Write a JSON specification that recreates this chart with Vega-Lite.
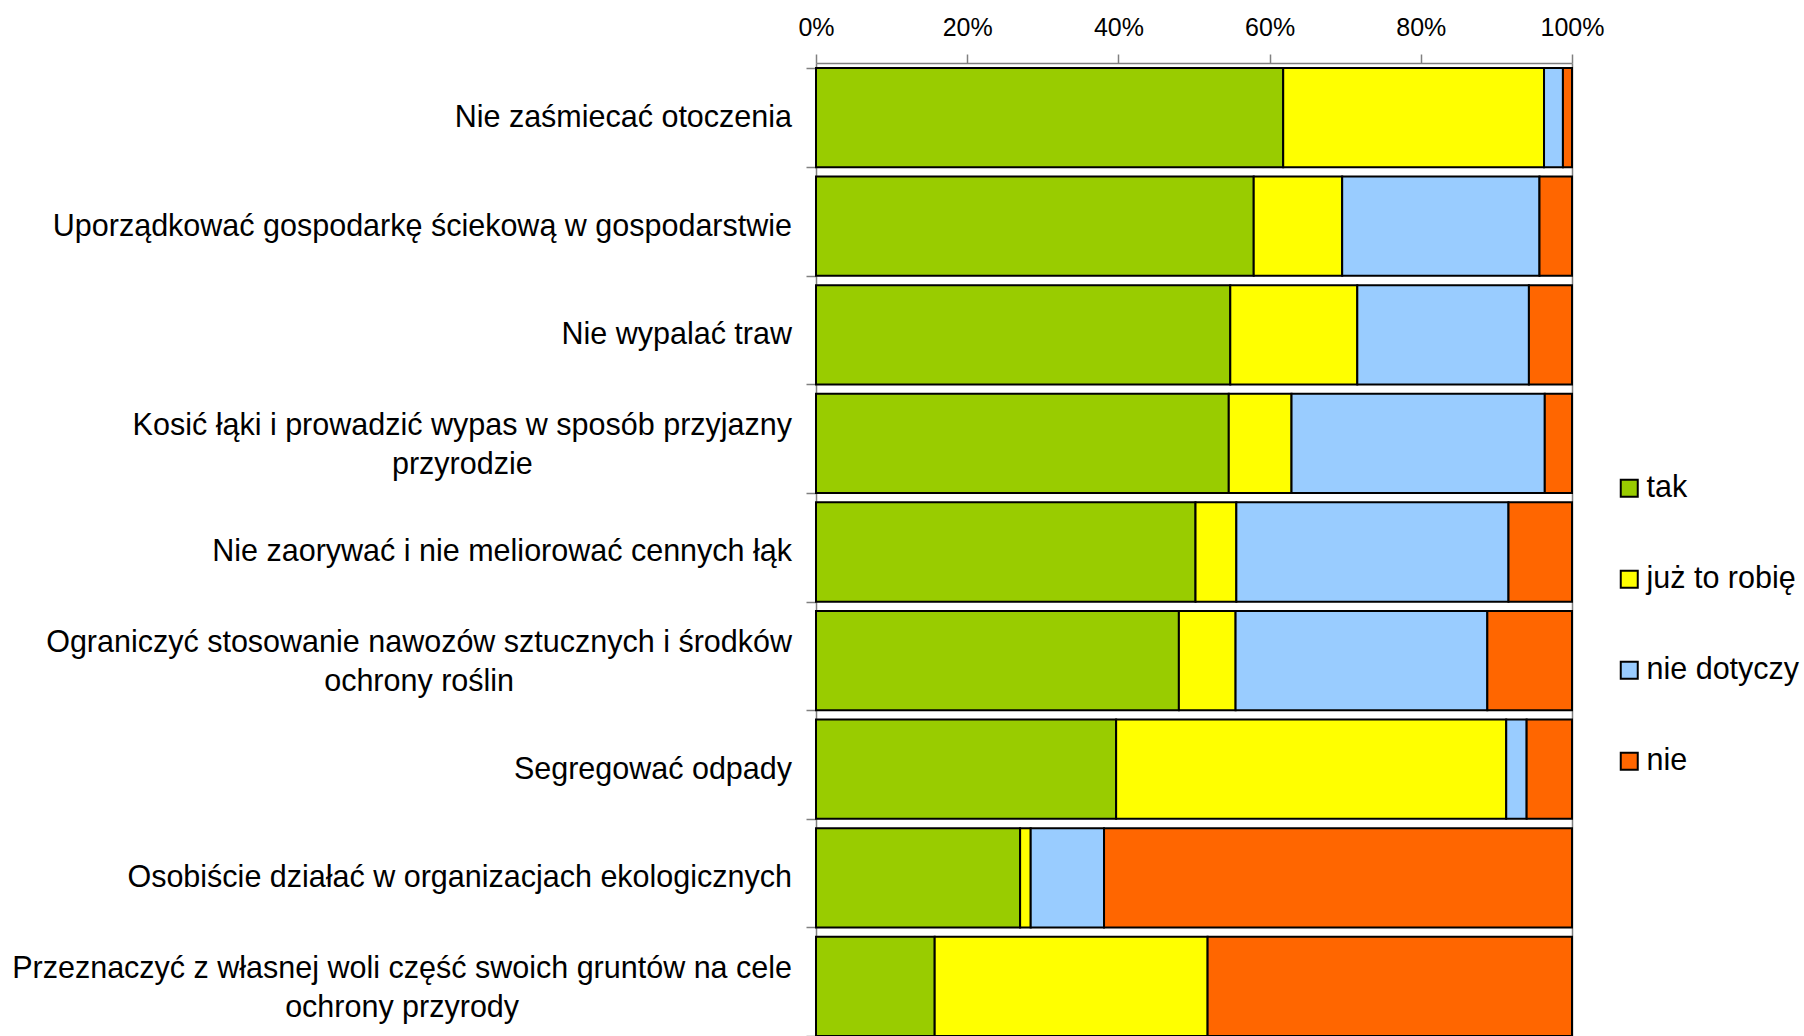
{
  "$schema": "https://vega.github.io/schema/vega-lite/v6.json",
  "width": 756,
  "height": 973,
  "autosize": {"type": "none"},
  "padding": {"left": 816, "top": 63, "right": 232, "bottom": 0},
  "background": "white",
  "config": {"view": {"stroke": null}, "font": "Liberation Sans"},
  "data": {
    "values": [
      {"dzialanie": "Nie zaśmiecać otoczenia", "odpowiedz": "tak", "kolejnosc": 1, "udzial": 61.8},
      {"dzialanie": "Nie zaśmiecać otoczenia", "odpowiedz": "już to robię", "kolejnosc": 2, "udzial": 34.5},
      {"dzialanie": "Nie zaśmiecać otoczenia", "odpowiedz": "nie dotyczy", "kolejnosc": 3, "udzial": 2.5},
      {"dzialanie": "Nie zaśmiecać otoczenia", "odpowiedz": "nie", "kolejnosc": 4, "udzial": 1.2},
      {"dzialanie": "Uporządkować gospodarkę ściekową w gospodarstwie", "odpowiedz": "tak", "kolejnosc": 1, "udzial": 57.9},
      {"dzialanie": "Uporządkować gospodarkę ściekową w gospodarstwie", "odpowiedz": "już to robię", "kolejnosc": 2, "udzial": 11.7},
      {"dzialanie": "Uporządkować gospodarkę ściekową w gospodarstwie", "odpowiedz": "nie dotyczy", "kolejnosc": 3, "udzial": 26.1},
      {"dzialanie": "Uporządkować gospodarkę ściekową w gospodarstwie", "odpowiedz": "nie", "kolejnosc": 4, "udzial": 4.3},
      {"dzialanie": "Nie wypalać traw", "odpowiedz": "tak", "kolejnosc": 1, "udzial": 54.8},
      {"dzialanie": "Nie wypalać traw", "odpowiedz": "już to robię", "kolejnosc": 2, "udzial": 16.8},
      {"dzialanie": "Nie wypalać traw", "odpowiedz": "nie dotyczy", "kolejnosc": 3, "udzial": 22.7},
      {"dzialanie": "Nie wypalać traw", "odpowiedz": "nie", "kolejnosc": 4, "udzial": 5.7},
      {"dzialanie": "Kosić łąki i prowadzić wypas w sposób przyjazny|przyrodzie", "odpowiedz": "tak", "kolejnosc": 1, "udzial": 54.6},
      {"dzialanie": "Kosić łąki i prowadzić wypas w sposób przyjazny|przyrodzie", "odpowiedz": "już to robię", "kolejnosc": 2, "udzial": 8.3},
      {"dzialanie": "Kosić łąki i prowadzić wypas w sposób przyjazny|przyrodzie", "odpowiedz": "nie dotyczy", "kolejnosc": 3, "udzial": 33.5},
      {"dzialanie": "Kosić łąki i prowadzić wypas w sposób przyjazny|przyrodzie", "odpowiedz": "nie", "kolejnosc": 4, "udzial": 3.6},
      {"dzialanie": "Nie zaorywać i nie meliorować cennych łąk", "odpowiedz": "tak", "kolejnosc": 1, "udzial": 50.2},
      {"dzialanie": "Nie zaorywać i nie meliorować cennych łąk", "odpowiedz": "już to robię", "kolejnosc": 2, "udzial": 5.4},
      {"dzialanie": "Nie zaorywać i nie meliorować cennych łąk", "odpowiedz": "nie dotyczy", "kolejnosc": 3, "udzial": 36.0},
      {"dzialanie": "Nie zaorywać i nie meliorować cennych łąk", "odpowiedz": "nie", "kolejnosc": 4, "udzial": 8.4},
      {"dzialanie": "Ograniczyć stosowanie nawozów sztucznych i środków|ochrony roślin", "odpowiedz": "tak", "kolejnosc": 1, "udzial": 48.0},
      {"dzialanie": "Ograniczyć stosowanie nawozów sztucznych i środków|ochrony roślin", "odpowiedz": "już to robię", "kolejnosc": 2, "udzial": 7.5},
      {"dzialanie": "Ograniczyć stosowanie nawozów sztucznych i środków|ochrony roślin", "odpowiedz": "nie dotyczy", "kolejnosc": 3, "udzial": 33.3},
      {"dzialanie": "Ograniczyć stosowanie nawozów sztucznych i środków|ochrony roślin", "odpowiedz": "nie", "kolejnosc": 4, "udzial": 11.2},
      {"dzialanie": "Segregować odpady", "odpowiedz": "tak", "kolejnosc": 1, "udzial": 39.7},
      {"dzialanie": "Segregować odpady", "odpowiedz": "już to robię", "kolejnosc": 2, "udzial": 51.6},
      {"dzialanie": "Segregować odpady", "odpowiedz": "nie dotyczy", "kolejnosc": 3, "udzial": 2.7},
      {"dzialanie": "Segregować odpady", "odpowiedz": "nie", "kolejnosc": 4, "udzial": 6.0},
      {"dzialanie": "Osobiście działać w organizacjach ekologicznych", "odpowiedz": "tak", "kolejnosc": 1, "udzial": 27.0},
      {"dzialanie": "Osobiście działać w organizacjach ekologicznych", "odpowiedz": "już to robię", "kolejnosc": 2, "udzial": 1.4},
      {"dzialanie": "Osobiście działać w organizacjach ekologicznych", "odpowiedz": "nie dotyczy", "kolejnosc": 3, "udzial": 9.7},
      {"dzialanie": "Osobiście działać w organizacjach ekologicznych", "odpowiedz": "nie", "kolejnosc": 4, "udzial": 61.9},
      {"dzialanie": "Przeznaczyć z własnej woli część swoich gruntów na cele|ochrony przyrody", "odpowiedz": "tak", "kolejnosc": 1, "udzial": 15.7},
      {"dzialanie": "Przeznaczyć z własnej woli część swoich gruntów na cele|ochrony przyrody", "odpowiedz": "już to robię", "kolejnosc": 2, "udzial": 36.1},
      {"dzialanie": "Przeznaczyć z własnej woli część swoich gruntów na cele|ochrony przyrody", "odpowiedz": "nie", "kolejnosc": 4, "udzial": 48.2}
    ]
  },
  "mark": {"type": "bar", "stroke": "black", "strokeWidth": 2},
  "encoding": {
    "y": {
      "field": "dzialanie",
      "type": "nominal",
      "sort": null,
      "scale": {"paddingInner": 0.086, "paddingOuter": 0.023, "align": 1},
      "axis": {
        "title": null,
        "orient": "left",
        "domainColor": "#808080",
        "domainWidth": 1.5,
        "tickColor": "#808080",
        "tickWidth": 1.5,
        "tickSize": 10,
        "tickBand": "extent",
        "labelFont": "Liberation Sans",
        "labelFontSize": 30.5,
        "labelColor": "black",
        "labelLimit": 2000,
        "labelLineHeight": 39,
        "labelExpr": "split(datum.label, '|')",
        "labelAlign": {
          "condition": {"test": "datum.value === 'Kosić łąki i prowadzić wypas w sposób przyjazny|przyrodzie' || datum.value === 'Ograniczyć stosowanie nawozów sztucznych i środków|ochrony roślin' || datum.value === 'Przeznaczyć z własnej woli część swoich gruntów na cele|ochrony przyrody'", "value": "center"},
          "value": "right"
        },
        "labelOffset": {
          "condition": {"test": "datum.value === 'Kosić łąki i prowadzić wypas w sposób przyjazny|przyrodzie' || datum.value === 'Ograniczyć stosowanie nawozów sztucznych i środków|ochrony roślin' || datum.value === 'Przeznaczyć z własnej woli część swoich gruntów na cele|ochrony przyrody'", "value": -18},
          "value": 0
        },
        "labelPadding": {
          "condition": [
            {"test": "datum.value === 'Kosić łąki i prowadzić wypas w sposób przyjazny|przyrodzie'", "value": 344.2},
            {"test": "datum.value === 'Ograniczyć stosowanie nawozów sztucznych i środków|ochrony roślin'", "value": 387.4},
            {"test": "datum.value === 'Przeznaczyć z własnej woli część swoich gruntów na cele|ochrony przyrody'", "value": 404.4}
          ],
          "value": 14.5
        }
      }
    },
    "x": {
      "field": "udzial",
      "type": "quantitative",
      "stack": "normalize",
      "scale": {"domain": [0, 1], "nice": false},
      "axis": {
        "title": null,
        "orient": "top",
        "format": ".0%",
        "values": [0, 0.2, 0.4, 0.6, 0.8, 1],
        "labelFont": "Liberation Sans",
        "labelFontSize": 25,
        "labelColor": "black",
        "labelFlush": false,
        "labelPadding": 14,
        "domainColor": "#808080",
        "domainWidth": 1.5,
        "tickColor": "#808080",
        "tickWidth": 1.5,
        "tickSize": 9,
        "grid": true,
        "gridColor": "#808080",
        "gridWidth": 1.5,
        "gridOpacity": {"condition": {"test": "datum.value === 1", "value": 1}, "value": 0}
      }
    },
    "color": {
      "field": "odpowiedz",
      "type": "nominal",
      "scale": {
        "domain": ["tak", "już to robię", "nie dotyczy", "nie"],
        "range": ["#99CC00", "#FFFF00", "#99CCFF", "#FF6600"]
      },
      "legend": {
        "title": null,
        "orient": "none",
        "legendX": 798,
        "legendY": 410,
        "symbolType": "square",
        "symbolSize": 289,
        "symbolStrokeColor": "black",
        "symbolStrokeWidth": 2,
        "symbolOpacity": 1,
        "labelFont": "Liberation Sans",
        "labelFontSize": 30.5,
        "labelColor": "black",
        "labelOffset": 2,
        "labelLimit": 400,
        "rowPadding": 60
      }
    },
    "order": {"field": "kolejnosc", "type": "quantitative"}
  }
}
